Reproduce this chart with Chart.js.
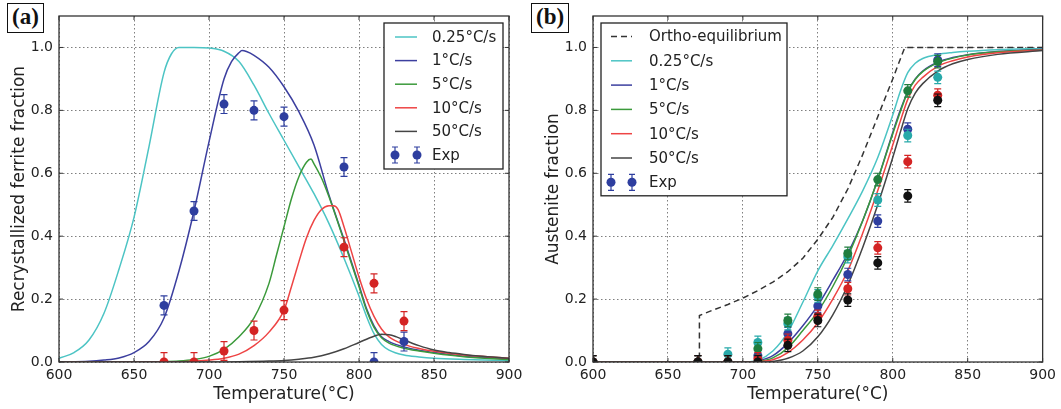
<!DOCTYPE html>
<html>
<head>
<meta charset="utf-8">
<script src="https://cdn.jsdelivr.net/npm/chart.js@4.4.1/dist/chart.umd.min.js"></script>
<style>
  body { margin: 0; background: #fff; width: 1061px; height: 409px; position: relative; overflow: hidden; }
  canvas { position: absolute; top: 0; }
  .tag { position: absolute; top: 3px; height: 28px; line-height: 28px; padding: 0 4px; border: 1.5px solid #111;
         font: bold 23px "Liberation Serif", serif; color: #111; background: #fff; }
</style>
</head>
<body>
<canvas id="chartA" width="530" height="409" style="left:0"></canvas>
<canvas id="chartB" width="530" height="409" style="left:531px"></canvas>
<div class="tag" style="left:7px">(a)</div>
<div class="tag" style="left:531px">(b)</div>
<script>
// (a) recrystallized ferrite fraction - model curves
var recT_025 = [600,610,620,630,640,650,660,670,675,680,690,700,710,720,730,740,750,760,770,780,790,800,805,810,815,820,830,840,850,870,900];
var rec_025  = [0.012,0.03,0.07,0.155,0.295,0.46,0.685,0.92,0.98,1.0,1.0,0.998,0.988,0.955,0.88,0.79,0.705,0.62,0.535,0.44,0.33,0.21,0.145,0.09,0.056,0.038,0.022,0.016,0.012,0.008,0.004];
var recT_1 = [600,620,630,640,650,660,670,680,690,700,710,715,720,722,725,730,740,750,760,770,780,790,800,805,810,815,820,830,840,850,870,900];
var rec_1  = [0,0.002,0.006,0.013,0.03,0.065,0.14,0.29,0.48,0.70,0.90,0.955,0.983,0.99,0.987,0.975,0.937,0.875,0.795,0.69,0.53,0.39,0.245,0.17,0.115,0.08,0.065,0.048,0.037,0.03,0.018,0.01];
var recT_5 = [600,650,670,680,690,700,710,720,730,740,745,750,755,760,765,768,770,775,780,790,800,805,810,815,820,830,840,850,870,900];
var rec_5  = [0,0,0.001,0.003,0.008,0.018,0.04,0.08,0.14,0.25,0.34,0.43,0.52,0.59,0.635,0.645,0.63,0.585,0.525,0.385,0.24,0.165,0.11,0.077,0.06,0.044,0.035,0.028,0.017,0.008];
var recT_10 = [600,680,690,700,710,720,730,740,750,755,760,765,770,775,780,783,786,790,795,800,805,810,815,820,830,840,850,870,900];
var rec_10  = [0,0.001,0.003,0.006,0.012,0.025,0.052,0.095,0.165,0.24,0.32,0.395,0.45,0.485,0.497,0.497,0.485,0.43,0.35,0.27,0.20,0.145,0.105,0.08,0.056,0.043,0.034,0.022,0.012];
var recT_50 = [600,700,720,740,750,760,770,780,790,800,810,815,820,825,830,840,850,860,870,880,900];
var rec_50  = [0,0,0.001,0.003,0.005,0.009,0.015,0.026,0.042,0.062,0.082,0.088,0.087,0.08,0.07,0.052,0.038,0.03,0.024,0.019,0.012];
// (a) experiments
var recExpT   = [670, 690, 710, 730, 750, 790, 810, 830];
var recExp_1  = [0.18, 0.48, 0.82, 0.80, 0.78, 0.62, 0.0, 0.065];
var recExp_10 = [0.0, 0.0, 0.035, 0.10, 0.165, 0.365, 0.25, 0.13];
var recExpErr = [0.03, 0.03, 0.03, 0.03, 0.03, 0.03, 0.03, 0.03];

// (b) austenite fraction - model curves
var orthoT = [600,671,671,680,690,700,710,720,730,740,750,760,770,780,790,800,808,900];
var ortho  = [0,0,0.148,0.165,0.183,0.203,0.227,0.254,0.287,0.33,0.39,0.46,0.55,0.66,0.78,0.90,1.0,1.0];
var ausT    = [600,700,705,710,720,730,740,750,760,770,780,790,800,805,810,815,820,830,840,850,870,900];
var aus_025 = [0,0,0.001,0.005,0.035,0.095,0.19,0.29,0.37,0.455,0.545,0.65,0.785,0.86,0.92,0.95,0.965,0.978,0.984,0.988,0.993,0.997];
var aus_1   = [0,0,0,0.003,0.02,0.06,0.115,0.18,0.26,0.345,0.45,0.58,0.73,0.80,0.86,0.90,0.925,0.953,0.968,0.977,0.987,0.994];
var aus_5   = [0,0,0,0.002,0.013,0.045,0.10,0.16,0.24,0.335,0.45,0.58,0.725,0.795,0.858,0.898,0.923,0.951,0.966,0.976,0.986,0.993];
var aus_10  = [0,0,0,0.001,0.007,0.03,0.07,0.125,0.20,0.29,0.41,0.545,0.69,0.765,0.835,0.88,0.905,0.94,0.958,0.97,0.983,0.992];
var aus_50  = [0,0,0,0,0.002,0.012,0.035,0.08,0.15,0.245,0.365,0.50,0.65,0.73,0.805,0.855,0.885,0.925,0.948,0.962,0.978,0.99];
// (b) experiments
var ausExpT   = [600, 670, 690, 710, 730, 750, 770, 790, 810, 830];
var ausExp_025 = [0, 0, 0.025, 0.062, 0.122, 0.21, 0.335, 0.515, 0.72, 0.905];
var ausExp_1   = [0, 0, 0, 0.02, 0.09, 0.178, 0.278, 0.448, 0.74, 0.96];
var ausExp_5   = [0, 0, 0, 0.042, 0.132, 0.216, 0.345, 0.58, 0.862, 0.955];
var ausExp_10  = [0, 0, 0, 0.01, 0.069, 0.145, 0.233, 0.363, 0.637, 0.848];
var ausExp_50  = [0, 0, 0, 0, 0.053, 0.132, 0.197, 0.315, 0.528, 0.832];
var ausExpErr  = [0.02, 0.02, 0.02, 0.02, 0.02, 0.02, 0.02, 0.02, 0.02, 0.02];

var xTicks = [600, 650, 700, 750, 800, 850, 900];
var yTicks = [0, 0.2, 0.4, 0.6, 0.8, 1.0];

var FONT = '"DejaVu Sans", sans-serif';
var C = { cyan: '#4cc4c4', blue: '#3c3f9f', green: '#3b9a3b', red: '#ee4444', black: '#444444' };
var M = { cyan: '#27a9a9', blue: '#2e3e9f', green: '#1f7d3e', red: '#d42424', black: '#111111' };

function xy(xs, ys) {
    return xs.map(function (x, i) { return { x: x, y: ys[i] }; });
}

function curve(label, xs, ys, color, order, dash) {
    return {
        label: label, data: xy(xs, ys), order: order,
        borderColor: color, backgroundColor: color, borderWidth: 1.5,
        borderDash: dash || [], pointRadius: 0, fill: false,
        cubicInterpolationMode: dash ? 'default' : 'monotone', tension: 0
    };
}

function marks(label, xs, ys, errs, color, order) {
    return {
        label: label, data: xy(xs, ys), yErr: errs, order: order,
        showLine: false, clip: 0,
        borderColor: color, backgroundColor: color,
        pointRadius: 4.5, pointHoverRadius: 4.5, pointBorderWidth: 0,
        pointBackgroundColor: color
    };
}

// error bars, drawn just before each marker set
var errorBars = {
    id: 'errorBars',
    beforeDatasetDraw: function (chart, args) {
        var ds = chart.data.datasets[args.index];
        if (!ds.yErr) return;
        var ctx = chart.ctx, ys = chart.scales.y, a = chart.chartArea;
        ctx.save();
        ctx.beginPath();
        ctx.rect(a.left, a.top, a.right - a.left, a.bottom - a.top);
        ctx.clip();
        ctx.strokeStyle = ds.borderColor;
        ctx.lineWidth = 1.2;
        args.meta.data.forEach(function (pt, i) {
            var v = ds.data[i].y, e = ds.yErr[i];
            var t = ys.getPixelForValue(v + e), b = ys.getPixelForValue(v - e);
            ctx.beginPath();
            ctx.moveTo(pt.x, t); ctx.lineTo(pt.x, b);
            ctx.moveTo(pt.x - 3.5, t); ctx.lineTo(pt.x + 3.5, t);
            ctx.moveTo(pt.x - 3.5, b); ctx.lineTo(pt.x + 3.5, b);
            ctx.stroke();
        });
        ctx.restore();
    }
};

// box around the axes with small inward ticks
var frame = {
    id: 'frame',
    afterDatasetsDraw: function (chart) {
        var ctx = chart.ctx, a = chart.chartArea;
        ctx.save();
        ctx.setLineDash([]);
        ctx.strokeStyle = '#333';
        ctx.lineWidth = 1.3;
        ctx.strokeRect(a.left, a.top, a.right - a.left, a.bottom - a.top);
        ctx.lineWidth = 1;
        ctx.beginPath();
        chart.scales.x.ticks.forEach(function (t) {
            var px = chart.scales.x.getPixelForValue(t.value);
            ctx.moveTo(px, a.bottom); ctx.lineTo(px, a.bottom - 4);
            ctx.moveTo(px, a.top); ctx.lineTo(px, a.top + 4);
        });
        chart.scales.y.ticks.forEach(function (t) {
            var py = chart.scales.y.getPixelForValue(t.value);
            ctx.moveTo(a.left, py); ctx.lineTo(a.left + 4, py);
            ctx.moveTo(a.right, py); ctx.lineTo(a.right - 4, py);
        });
        ctx.stroke();
        ctx.restore();
    }
};

function boxLegend(cfg) {
    return {
        id: 'boxLegend',
        afterDraw: function (chart) {
            var ctx = chart.ctx, a = chart.chartArea;
            var n = cfg.items.length;
            var h = cfg.first * 2 + (n - 1) * cfg.rowH;
            var left = cfg.side === 'right' ? a.right - cfg.dx - cfg.width : a.left + cfg.dx;
            var top = a.top + cfg.dy;
            ctx.save();
            ctx.setLineDash([]);
            ctx.fillStyle = '#fff';
            ctx.fillRect(left, top, cfg.width, h);
            ctx.strokeStyle = '#222';
            ctx.lineWidth = 1.3;
            ctx.strokeRect(left, top, cfg.width, h);
            ctx.font = '15px ' + FONT;
            ctx.textBaseline = 'middle';
            cfg.items.forEach(function (it, i) {
                var cy = top + cfg.first + i * cfg.rowH;
                var x0 = left + cfg.x0, x1 = left + cfg.x1;
                if (it.kind === 'exp') {
                    ctx.strokeStyle = it.color; ctx.fillStyle = it.color; ctx.lineWidth = 1.2;
                    [x0, x1].forEach(function (x) {
                        ctx.beginPath();
                        ctx.moveTo(x, cy - 8); ctx.lineTo(x, cy + 8);
                        ctx.moveTo(x - 3, cy - 8); ctx.lineTo(x + 3, cy - 8);
                        ctx.moveTo(x - 3, cy + 8); ctx.lineTo(x + 3, cy + 8);
                        ctx.stroke();
                        ctx.beginPath(); ctx.arc(x, cy, 4.5, 0, Math.PI * 2); ctx.fill();
                    });
                } else {
                    ctx.strokeStyle = it.color; ctx.lineWidth = 1.5;
                    ctx.setLineDash(it.kind === 'dash' ? [6, 4] : []);
                    ctx.beginPath(); ctx.moveTo(x0, cy); ctx.lineTo(x1, cy); ctx.stroke();
                    ctx.setLineDash([]);
                }
                ctx.fillStyle = '#222';
                ctx.fillText(it.text, left + cfg.tx, cy + 1);
            });
            ctx.restore();
        }
    };
}

function axes(yTitle, yWidth, yTitlePad) {
    var gridOpts = { drawTicks: false, color: 'rgba(0,0,0,0.5)', lineWidth: 1 };
    return {
        x: {
            type: 'linear', min: 600, max: 900,
            afterFit: function (s) { s.height = 47; },
            afterBuildTicks: function (s) { s.ticks = xTicks.map(function (v) { return { value: v }; }); },
            ticks: { font: { family: FONT, size: 14 }, color: '#222', padding: 5, maxRotation: 0 },
            grid: gridOpts,
            border: { display: false, dash: [1.5, 2.5] },
            title: { display: true, text: 'Temperature(°C)', color: '#222',
                     font: { family: FONT, size: 17 }, padding: { top: 0, bottom: 4 } }
        },
        y: {
            type: 'linear', min: 0, max: 1.1,
            afterFit: function (s) { s.width = yWidth; },
            afterBuildTicks: function (s) { s.ticks = yTicks.map(function (v) { return { value: v }; }); },
            ticks: { font: { family: FONT, size: 14 }, color: '#222', padding: 6,
                     callback: function (v) { return v.toFixed(1); } },
            grid: gridOpts,
            border: { display: false, dash: [1.5, 2.5] },
            title: { display: true, text: yTitle, color: '#222',
                     font: { family: FONT, size: 17 }, padding: { top: yTitlePad, bottom: 0 } }
        }
    };
}

new Chart(document.getElementById('chartA'), {
    type: 'line',
    data: {
        datasets: [
            marks('Exp 1°C/s', recExpT, recExp_1, recExpErr, M.blue, 2),
            marks('Exp 10°C/s', recExpT, recExp_10, recExpErr, M.red, 1),
            curve('0.25°C/s', recT_025, rec_025, C.cyan, 10),
            curve('1°C/s', recT_1, rec_1, C.blue, 9),
            curve('5°C/s', recT_5, rec_5, C.green, 8),
            curve('10°C/s', recT_10, rec_10, C.red, 7),
            curve('50°C/s', recT_50, rec_50, C.black, 6)
        ]
    },
    options: {
        responsive: false, animation: false, events: [],
        layout: { padding: { top: 16, right: 21, left: 0, bottom: 0 } },
        plugins: { legend: { display: false }, tooltip: { enabled: false } },
        scales: axes('Recrystallized ferrite fraction', 59, 9)
    },
    plugins: [errorBars, frame, boxLegend({
        side: 'right', dx: 6, dy: 7, width: 119, first: 14, rowH: 23.6, x0: 11, x1: 33, tx: 48,
        items: [
            { text: '0.25°C/s', color: C.cyan, kind: 'line' },
            { text: '1°C/s', color: C.blue, kind: 'line' },
            { text: '5°C/s', color: C.green, kind: 'line' },
            { text: '10°C/s', color: C.red, kind: 'line' },
            { text: '50°C/s', color: C.black, kind: 'line' },
            { text: 'Exp', color: M.blue, kind: 'exp' }
        ]
    })]
});

new Chart(document.getElementById('chartB'), {
    type: 'line',
    data: {
        datasets: [
            marks('Exp 0.25°C/s', ausExpT, ausExp_025, ausExpErr, M.cyan, 4),
            marks('Exp 1°C/s', ausExpT, ausExp_1, ausExpErr, M.blue, 5),
            marks('Exp 5°C/s', ausExpT, ausExp_5, ausExpErr, M.green, 3),
            marks('Exp 10°C/s', ausExpT, ausExp_10, ausExpErr, M.red, 2),
            marks('Exp 50°C/s', ausExpT, ausExp_50, ausExpErr, M.black, 1),
            curve('Ortho-equilibrium', orthoT, ortho, '#333', 11, [6, 4]),
            curve('0.25°C/s', ausT, aus_025, C.cyan, 10),
            curve('1°C/s', ausT, aus_1, C.blue, 9),
            curve('5°C/s', ausT, aus_5, C.green, 8),
            curve('10°C/s', ausT, aus_10, C.red, 7),
            curve('50°C/s', ausT, aus_50, C.black, 6)
        ]
    },
    options: {
        responsive: false, animation: false, events: [],
        layout: { padding: { top: 16, right: 18, left: 0, bottom: 0 } },
        plugins: { legend: { display: false }, tooltip: { enabled: false } },
        scales: axes('Austenite fraction', 62, 12)
    },
    plugins: [errorBars, frame, boxLegend({
        side: 'left', dx: 8, dy: 7, width: 186, first: 13.5, rowH: 24.3, x0: 10, x1: 31, tx: 48,
        items: [
            { text: 'Ortho-equilibrium', color: '#333', kind: 'dash' },
            { text: '0.25°C/s', color: C.cyan, kind: 'line' },
            { text: '1°C/s', color: C.blue, kind: 'line' },
            { text: '5°C/s', color: C.green, kind: 'line' },
            { text: '10°C/s', color: C.red, kind: 'line' },
            { text: '50°C/s', color: C.black, kind: 'line' },
            { text: 'Exp', color: M.blue, kind: 'exp' }
        ]
    })]
});
</script>
</body>
</html>
